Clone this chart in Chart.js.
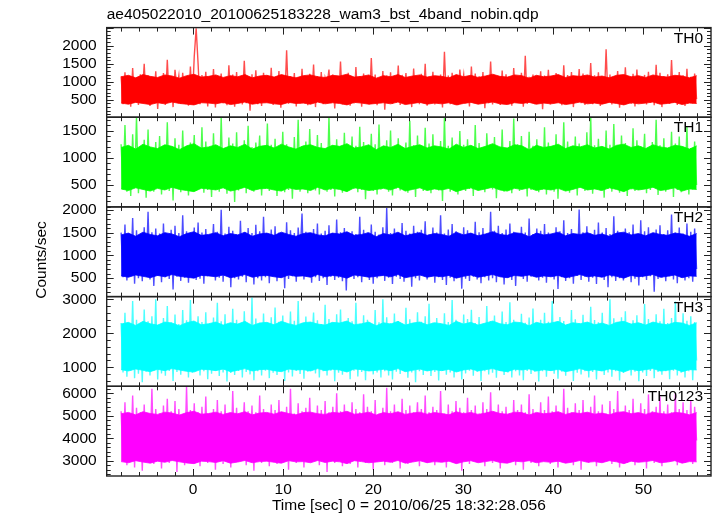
<!DOCTYPE html>
<html>
<head>
<meta charset="utf-8">
<script src="https://cdn.jsdelivr.net/npm/chart.js@4/dist/chart.umd.min.js"></script>
<style>
  html, body { margin: 0; padding: 0; background: #fff; }
  #wrap { position: relative; width: 717px; height: 516px; }
  #wrap canvas { position: absolute; left: 0; top: 0; }
</style>
</head>
<body>
<div id="wrap">
  <canvas id="c0" width="717" height="516"></canvas>
  <canvas id="c1" width="717" height="516"></canvas>
  <canvas id="c2" width="717" height="516"></canvas>
  <canvas id="c3" width="717" height="516"></canvas>
  <canvas id="c4" width="717" height="516"></canvas>
</div>
<script>
// time bins (sec): first bin and bin width of the light curve,
// and of the dense core envelope
const tStart = -8.0;
const binSize = 0.2137;
const bandStep = 0.809;

const xTicks = [0, 10, 20, 30, 40, 50];

const panelNames = ['TH0', 'TH1', 'TH2', 'TH3', 'TH0123'];

const yTicksTH0 = [500, 1000, 1500, 2000];
const yTicksTH1 = [500, 1000, 1500];
const yTicksTH2 = [500, 1000, 1500, 2000];
const yTicksTH3 = [1000, 2000, 3000];
const yTicksTH0123 = [3000, 4000, 5000, 6000];

// light curve peaks and dips (counts/sec)
const th0 = [
  1150, 380, 1260, 420, 1090, 310, 1380, 450, 1120, 360, 1210, 600, 1500, 400, 1180, 330, 1090, 430, 1290, 250,
  1130, 410, 1240, 360, 1610, 440, 1100, 300, 1330, 820, 1170, 390, 1250, 460, 1080, 340, 1420, 410, 1700, 2480,
  1500, 380, 1190, 450, 1280, 320, 1110, 420, 1350, 290, 1160, 760, 1230, 400, 1090, 350, 1460, 430, 1200, 310,
  1270, 440, 1120, 370, 1580, 410, 1140, 200, 1210, 460, 1320, 380, 1080, 330, 1250, 700, 1170, 420, 1390, 360,
  1100, 450, 1300, 280, 1190, 410, 1870, 390, 1150, 440, 1240, 320, 1120, 400, 1360, 460, 1090, 350, 1220, 430,
  1480, 300, 1160, 420, 1270, 380, 1110, 900, 1340, 410, 1200, 260, 1130, 450, 1560, 370, 1180, 430, 1250, 340,
  1090, 400, 1410, 460, 1150, 310, 1230, 420, 1120, 380, 1660, 440, 1200, 350, 1080, 410, 1300, 230, 1170, 450,
  1260, 390, 1130, 430, 1450, 360, 1190, 650, 1240, 410, 1110, 300, 1370, 450, 1160, 380, 1220, 420, 1500, 340,
  1140, 460, 1280, 370, 1090, 410, 1200, 290, 1830, 440, 1170, 380, 1250, 430, 1120, 350, 1340, 800, 1190, 410,
  1100, 320, 1420, 450, 1230, 390, 1150, 440, 1270, 270, 1130, 410, 1560, 370, 1180, 430, 1090, 360, 1310, 440,
  1210, 400, 1120, 340, 1380, 460, 1160, 420, 1250, 310, 1720, 390, 1140, 450, 1200, 380, 1080, 420, 1290, 240,
  1170, 440, 1330, 370, 1100, 410, 1240, 700, 1150, 350, 1460, 430, 1190, 390, 1270, 300, 1120, 450, 1350, 410,
  1230, 360, 1090, 420, 1520, 380, 1180, 440, 1260, 330, 1140, 410, 1900, 450, 1200, 370, 1110, 430, 1300, 280,
  1160, 400, 1400, 450, 1120, 390, 1220, 320, 1340, 440, 1080, 600, 1190, 370, 1280, 420, 1130, 350, 1470, 410,
  1250, 300, 1150, 430, 1210, 390, 1600, 440, 1100, 360, 1270, 420, 1180, 330, 1360, 450, 1140, 400, 1230, 520
];
const th1 = [
  1250, 420, 1600, 380, 1180, 300, 1430, 460, 1750, 350, 1200, 440, 1330, 270, 1520, 410, 1160, 380, 1290, 450,
  1400, 330, 1210, 430, 1650, 390, 1170, 220, 1360, 460, 1240, 370, 1500, 420, 1150, 310, 1280, 700, 1420, 400,
  1190, 440, 1560, 360, 1300, 410, 1130, 280, 1450, 430, 1220, 380, 1750, 450, 1180, 340, 1370, 420, 1260, 190,
  1470, 400, 1160, 450, 1320, 350, 1590, 420, 1200, 380, 1280, 800, 1410, 310, 1170, 440, 1630, 390, 1240, 430,
  1350, 300, 1190, 460, 1480, 370, 1250, 410, 1140, 250, 1380, 440, 1700, 380, 1210, 420, 1300, 350, 1530, 450,
  1180, 400, 1420, 330, 1270, 440, 1160, 380, 1750, 410, 1230, 290, 1340, 450, 1200, 360, 1460, 420, 1150, 600,
  1390, 430, 1220, 370, 1570, 410, 1290, 240, 1180, 450, 1440, 390, 1250, 330, 1610, 420, 1170, 460, 1320, 380,
  1500, 310, 1200, 440, 1360, 400, 1140, 850, 1280, 360, 1680, 430, 1230, 280, 1410, 450, 1190, 390, 1550, 420,
  1260, 350, 1430, 460, 1170, 400, 1310, 210, 1750, 440, 1220, 380, 1370, 420, 1150, 330, 1490, 450, 1240, 390,
  1340, 430, 1190, 300, 1600, 410, 1270, 450, 1160, 370, 1450, 700, 1230, 420, 1380, 260, 1200, 440, 1520, 380,
  1180, 410, 1310, 350, 1720, 460, 1250, 390, 1400, 430, 1150, 290, 1480, 410, 1220, 450, 1340, 370, 1190, 420,
  1560, 330, 1280, 440, 1170, 380, 1430, 250, 1210, 450, 1650, 400, 1300, 360, 1180, 430, 1390, 310, 1260, 450,
  1200, 390, 1470, 420, 1750, 340, 1230, 460, 1350, 400, 1160, 270, 1500, 430, 1240, 380, 1620, 440, 1190, 360,
  1410, 450, 1270, 300, 1180, 420, 1540, 390, 1320, 440, 1210, 750, 1440, 350, 1170, 410, 1290, 460, 1700, 320,
  1230, 430, 1360, 380, 1150, 450, 1480, 280, 1260, 410, 1390, 370, 1200, 440, 1580, 330, 1180, 420, 1300, 500
];
const th2 = [
  1500, 520, 1680, 450, 1460, 560, 1820, 380, 1550, 500, 1470, 430, 1620, 540, 1960, 470, 1510, 330, 1590, 550,
  1480, 410, 1700, 520, 1450, 480, 1560, 250, 1650, 530, 1490, 440, 1880, 510, 1530, 400, 1470, 560, 1610, 460,
  1720, 490, 1500, 380, 1580, 540, 1460, 900, 1690, 450, 1520, 510, 2000, 420, 1480, 550, 1630, 300, 1540, 500,
  1460, 470, 1760, 530, 1510, 410, 1600, 560, 1490, 360, 1670, 500, 1530, 450, 1850, 520, 1470, 390, 1570, 540,
  1640, 430, 1500, 510, 1460, 280, 1730, 480, 1550, 540, 1490, 420, 1610, 1000, 1920, 470, 1520, 550, 1470, 400,
  1580, 520, 1700, 440, 1480, 500, 1540, 350, 1660, 530, 1450, 460, 1790, 510, 1510, 430, 1600, 230, 1490, 550,
  1530, 480, 1470, 520, 1850, 410, 1560, 540, 1500, 460, 1680, 380, 1520, 500, 1460, 550, 1620, 440, 2040, 510,
  1490, 370, 1590, 530, 1470, 480, 1710, 420, 1540, 560, 1480, 310, 1650, 500, 1520, 450, 1560, 800, 1750, 470,
  1460, 540, 1610, 400, 1500, 520, 1880, 460, 1480, 350, 1570, 510, 1690, 430, 1530, 550, 1470, 270, 1620, 490,
  1550, 440, 1480, 530, 1740, 470, 1510, 390, 1600, 520, 1460, 450, 1960, 500, 1540, 410, 1650, 540, 1490, 360,
  1570, 510, 1700, 460, 1520, 330, 1480, 550, 1630, 480, 1500, 420, 1810, 530, 1470, 900, 1590, 450, 1540, 510,
  1690, 400, 1500, 540, 1460, 470, 1620, 260, 1530, 520, 1770, 440, 1490, 500, 1580, 380, 1470, 550, 2010, 460,
  1510, 530, 1640, 420, 1480, 510, 1560, 370, 1720, 540, 1500, 460, 1600, 300, 1470, 520, 1860, 440, 1540, 500,
  1480, 450, 1590, 550, 1510, 410, 1680, 490, 1460, 340, 1770, 520, 1530, 460, 1620, 540, 1490, 200, 1570, 480,
  1660, 510, 1470, 430, 1550, 540, 1900, 470, 1500, 390, 1610, 520, 1480, 450, 1700, 500, 1520, 420, 1590, 700
];
const th3 = [
  2300, 850, 2600, 720, 2250, 900, 2950, 680, 2400, 810, 2280, 560, 2700, 870, 2350, 760, 2500, 900, 3000, 640,
  2260, 820, 2450, 750, 2800, 890, 2320, 600, 2550, 860, 2270, 780, 2680, 900, 2380, 700, 2980, 840, 2290, 1500,
  2500, 760, 2330, 880, 2620, 650, 2280, 810, 2460, 900, 2900, 740, 2350, 850, 2560, 580, 2270, 830, 2720, 770,
  2400, 890, 2300, 700, 2650, 860, 2260, 790, 3050, 620, 2430, 880, 2310, 760, 2580, 900, 2290, 680, 2470, 840,
  2760, 770, 2340, 900, 2520, 600, 2280, 850, 2640, 730, 2370, 890, 2950, 800, 2300, 660, 2490, 870, 2250, 1600,
  2610, 820, 2380, 700, 2270, 880, 2840, 760, 2420, 900, 2310, 590, 2560, 840, 2700, 780, 2290, 870, 2450, 650,
  2350, 900, 2900, 730, 2280, 860, 2530, 620, 2400, 890, 2260, 790, 2680, 850, 2320, 700, 3000, 880, 2470, 760,
  2300, 640, 2580, 870, 2360, 800, 2260, 900, 2750, 690, 2410, 850, 2290, 560, 2620, 880, 2340, 770, 2500, 900,
  2870, 740, 2310, 860, 2450, 610, 2280, 890, 2590, 780, 2330, 850, 2980, 700, 2400, 880, 2270, 640, 2550, 820,
  2420, 900, 2690, 750, 2300, 860, 2480, 600, 2260, 880, 2800, 790, 2350, 840, 2520, 690, 2290, 900, 2640, 770,
  2330, 850, 2910, 700, 2400, 880, 2280, 760, 2570, 620, 2310, 890, 2460, 800, 2730, 860, 2270, 580, 2400, 880,
  2600, 720, 2340, 900, 2950, 810, 2290, 660, 2480, 870, 2360, 750, 2270, 890, 2680, 600, 2410, 840, 2300, 790,
  2540, 880, 2280, 700, 2780, 860, 2390, 640, 2320, 900, 2600, 770, 2260, 850, 3000, 720, 2440, 880, 2310, 610,
  2470, 830, 2650, 900, 2290, 760, 2380, 870, 2530, 590, 2300, 850, 2860, 740, 2420, 890, 2270, 680, 2560, 860,
  2350, 780, 2720, 880, 2300, 650, 2450, 900, 2930, 760, 2280, 840, 2590, 700, 2370, 880, 2500, 620, 2330, 1200
];
const th0123 = [
  5200, 3000, 5600, 2800, 5100, 3100, 5900, 2700, 5350, 3050, 5150, 2550, 5500, 2950, 5050, 3100, 6200, 2850, 5300, 3000,
  5100, 2650, 5450, 3100, 5750, 2900, 5200, 3050, 5650, 2500, 5300, 3000, 5050, 2800, 6300, 3100, 5250, 2950, 5550, 3080,
  5150, 2750, 5400, 3000, 5850, 2900, 5100, 3100, 5300, 2600, 5700, 3050, 5200, 2850, 5500, 3000, 5050, 2700, 6100, 3100,
  5350, 2950, 5100, 4000, 5600, 2800, 5200, 3050, 5450, 2550, 5150, 3000, 5900, 2900, 5300, 3100, 5050, 2750, 5500, 3000,
  5250, 2850, 5700, 3100, 5150, 2950, 5400, 2600, 6200, 3050, 5100, 2900, 5550, 3000, 5200, 2700, 5350, 3100, 5800, 2950,
  5100, 3050, 5450, 2800, 5250, 3000, 5650, 2500, 5150, 3100, 5400, 2900, 6000, 3050, 5200, 2750, 5500, 3000, 5050, 2850,
  5600, 3000, 5300, 2700, 5150, 3100, 5950, 2900, 5400, 3050, 5200, 2600, 5700, 2950, 5100, 3100, 5350, 2800, 6250, 3000,
  5200, 2900, 5500, 3050, 5100, 2650, 5750, 3000, 5250, 2850, 5450, 3100, 5150, 4100, 5600, 2750, 5300, 3000, 5900, 2900,
  5150, 3100, 5400, 2800, 5250, 2950, 6100, 3050, 5100, 2700, 5500, 3000, 5200, 2900, 5650, 3100, 5350, 2550, 5150, 3000,
  5800, 2850, 5250, 3100, 5450, 2950, 5100, 3050, 5600, 2750, 5300, 3000, 6050, 2900, 5150, 3100, 5500, 2650, 5200, 3000,
  5400, 2950, 5100, 3050, 5700, 2800, 5250, 3100, 5500, 2600, 5150, 3000, 5950, 2900, 5300, 3050, 5100, 2750, 5600, 3000,
  5250, 3100, 5850, 2850, 5200, 3000, 5450, 2700, 5100, 3050, 6200, 2950, 5350, 3100, 5150, 2800, 5550, 3000, 5250, 2600,
  5700, 3000, 5150, 2900, 5400, 3100, 5900, 2750, 5200, 3050, 5500, 2950, 5100, 3000, 5650, 2850, 5300, 3100, 6100, 2700,
  5150, 3050, 5450, 2900, 5250, 3000, 5750, 2800, 5100, 3100, 5550, 2950, 5300, 2650, 5950, 3050, 5200, 2900, 5400, 3000,
  5850, 2750, 5200, 3100, 5500, 2950, 5150, 3050, 6000, 2800, 5300, 3000, 5600, 2900, 5250, 3100, 5700, 2850, 5400, 3900
];

// dense core of each curve: lower / upper edge (counts/sec)
const th0Lo = [
  410, 380, 430, 400, 370, 420, 390, 440, 400, 380, 360, 420, 410, 390, 430, 370, 400, 440, 380, 410,
  420, 390, 370, 430, 400, 410, 380, 440, 390, 420, 400, 360, 430, 410, 380, 400, 420, 390, 440, 370,
  400, 430, 380, 410, 390, 420, 360, 400, 430, 380, 410, 440, 390, 370, 420, 400, 430, 380, 410, 390,
  420, 370, 400, 440, 390, 410, 380, 430, 400, 360, 420, 390, 410, 440, 380, 400, 430, 370, 410, 400
];
const th0Hi = [
  1140, 1180, 1110, 1200, 1150, 1120, 1190, 1160, 1100, 1170, 1210, 1130, 1150, 1190, 1120, 1170, 1140, 1200, 1110, 1160,
  1180, 1130, 1200, 1150, 1110, 1170, 1190, 1140, 1120, 1180, 1160, 1210, 1130, 1150, 1190, 1100, 1170, 1140, 1200, 1120,
  1160, 1190, 1130, 1170, 1150, 1110, 1200, 1140, 1180, 1120, 1160, 1210, 1150, 1130, 1190, 1170, 1100, 1180, 1140, 1160,
  1200, 1120, 1170, 1150, 1190, 1130, 1160, 1110, 1180, 1200, 1140, 1170, 1120, 1190, 1150, 1130, 1180, 1160, 1110, 1170
];
const th1Lo = [
  430, 400, 450, 420, 390, 440, 410, 460, 420, 400, 380, 440, 430, 410, 450, 390, 420, 460, 400, 430,
  440, 410, 390, 450, 420, 430, 400, 460, 410, 440, 420, 380, 450, 430, 400, 420, 440, 410, 460, 390,
  420, 450, 400, 430, 410, 440, 380, 420, 450, 400, 430, 460, 410, 390, 440, 420, 450, 400, 430, 410,
  440, 390, 420, 460, 410, 430, 400, 450, 420, 380, 440, 410, 430, 460, 400, 420, 450, 390, 430, 420
];
const th1Hi = [
  1190, 1230, 1160, 1250, 1200, 1170, 1240, 1210, 1150, 1220, 1260, 1180, 1200, 1240, 1170, 1220, 1190, 1250, 1160, 1210,
  1230, 1180, 1250, 1200, 1160, 1220, 1240, 1190, 1170, 1230, 1210, 1260, 1180, 1200, 1240, 1150, 1220, 1190, 1250, 1170,
  1210, 1240, 1180, 1220, 1200, 1160, 1250, 1190, 1230, 1170, 1210, 1260, 1200, 1180, 1240, 1220, 1150, 1230, 1190, 1210,
  1250, 1170, 1220, 1200, 1240, 1180, 1210, 1160, 1230, 1250, 1190, 1220, 1170, 1240, 1200, 1180, 1230, 1210, 1160, 1220
];
const th2Lo = [
  550, 520, 570, 540, 510, 560, 530, 580, 540, 520, 500, 560, 550, 530, 570, 510, 540, 580, 520, 550,
  560, 530, 510, 570, 540, 550, 520, 580, 530, 560, 540, 500, 570, 550, 520, 540, 560, 530, 580, 510,
  540, 570, 520, 550, 530, 560, 500, 540, 570, 520, 550, 580, 530, 510, 560, 540, 570, 520, 550, 530,
  560, 510, 540, 580, 530, 550, 520, 570, 540, 500, 560, 530, 550, 580, 520, 540, 570, 510, 550, 540
];
const th2Hi = [
  1450, 1490, 1420, 1510, 1460, 1430, 1500, 1470, 1410, 1480, 1520, 1440, 1460, 1500, 1430, 1480, 1450, 1510, 1420, 1470,
  1490, 1440, 1510, 1460, 1420, 1480, 1500, 1450, 1430, 1490, 1470, 1520, 1440, 1460, 1500, 1410, 1480, 1450, 1510, 1430,
  1470, 1500, 1440, 1480, 1460, 1420, 1510, 1450, 1490, 1430, 1470, 1520, 1460, 1440, 1500, 1480, 1410, 1490, 1450, 1470,
  1510, 1430, 1480, 1460, 1500, 1440, 1470, 1420, 1490, 1510, 1450, 1480, 1430, 1500, 1460, 1440, 1490, 1470, 1420, 1480
];
const th3Lo = [
  930, 890, 950, 910, 870, 940, 900, 960, 920, 880, 860, 940, 930, 900, 950, 870, 910, 960, 890, 930,
  940, 900, 870, 950, 920, 930, 890, 960, 900, 940, 920, 860, 950, 930, 890, 910, 940, 900, 960, 870,
  910, 950, 890, 930, 900, 940, 860, 920, 950, 890, 930, 960, 900, 870, 940, 920, 950, 890, 930, 900,
  940, 870, 910, 960, 900, 930, 890, 950, 920, 860, 940, 900, 930, 960, 890, 910, 950, 870, 930, 920
];
const th3Hi = [
  2270, 2320, 2230, 2350, 2280, 2240, 2330, 2300, 2220, 2310, 2360, 2250, 2280, 2330, 2240, 2310, 2270, 2350, 2230, 2300,
  2320, 2250, 2350, 2280, 2230, 2310, 2330, 2270, 2240, 2320, 2300, 2360, 2250, 2280, 2330, 2220, 2310, 2270, 2350, 2240,
  2300, 2330, 2250, 2310, 2280, 2230, 2350, 2270, 2320, 2240, 2300, 2360, 2280, 2250, 2330, 2310, 2220, 2320, 2270, 2300,
  2350, 2240, 2310, 2280, 2330, 2250, 2300, 2230, 2320, 2350, 2270, 2310, 2240, 2330, 2280, 2250, 2320, 2300, 2230, 2310
];
const th0123Lo = [
  2960, 2910, 3000, 2940, 2890, 2980, 2930, 3010, 2950, 2900, 2870, 2980, 2960, 2920, 3000, 2890, 2940, 3010, 2910, 2960,
  2980, 2930, 2890, 3000, 2950, 2960, 2910, 3010, 2920, 2980, 2950, 2870, 3000, 2960, 2910, 2940, 2980, 2930, 3010, 2890,
  2940, 3000, 2910, 2960, 2930, 2980, 2870, 2950, 3000, 2910, 2960, 3010, 2920, 2890, 2980, 2950, 3000, 2910, 2960, 2930,
  2980, 2890, 2940, 3010, 2930, 2960, 2910, 3000, 2950, 2870, 2980, 2930, 2960, 3010, 2910, 2940, 3000, 2890, 2960, 2950
];
const th0123Hi = [
  5090, 5150, 5040, 5180, 5100, 5060, 5160, 5120, 5030, 5140, 5200, 5070, 5100, 5160, 5060, 5140, 5090, 5180, 5040, 5120,
  5150, 5070, 5180, 5100, 5040, 5140, 5160, 5090, 5060, 5150, 5120, 5200, 5070, 5100, 5160, 5030, 5140, 5090, 5180, 5060,
  5120, 5160, 5070, 5140, 5100, 5040, 5180, 5090, 5150, 5060, 5120, 5200, 5100, 5070, 5160, 5140, 5030, 5150, 5090, 5120,
  5180, 5060, 5140, 5100, 5160, 5070, 5120, 5040, 5150, 5180, 5090, 5140, 5060, 5160, 5100, 5070, 5150, 5120, 5040, 5140
];

const FONT = "'Liberation Sans', Arial, Helvetica, sans-serif";
const bounds = [27.5, 117.2, 206.9, 296.6, 386.3, 476];

const panels = [
  { name: panelNames[0], values: th0, lo: th0Lo, hi: th0Hi, ticks: yTicksTH0, min: 20, max: 2500, minor: 100, rgb: '255,0,0' },
  { name: panelNames[1], values: th1, lo: th1Lo, hi: th1Hi, ticks: yTicksTH1, min: 100, max: 1745, minor: 100, rgb: '0,255,0' },
  { name: panelNames[2], values: th2, lo: th2Lo, hi: th2Hi, ticks: yTicksTH2, min: 95, max: 2065, minor: 100, rgb: '0,0,255' },
  { name: panelNames[3], values: th3, lo: th3Lo, hi: th3Hi, ticks: yTicksTH3, min: 440, max: 3078, minor: 200, rgb: '0,255,255' },
  { name: panelNames[4], values: th0123, lo: th0123Lo, hi: th0123Hi, ticks: yTicksTH0123, min: 2320, max: 6310, minor: 200, rgb: '255,0,255' }
];

// frame with inward ticks on all four sides, plus panel name
const framePlugin = {
  id: 'qdpFrame',
  afterDraw(chart, args, opts) {
    const { ctx, chartArea: a } = chart;
    const xs = chart.scales.x, ys = chart.scales.y;
    ctx.save();
    ctx.strokeStyle = '#222';
    ctx.lineWidth = 1;
    ctx.beginPath();
    for (let v = -8; v <= 56; v += 2) {
      const p = Math.round(xs.getPixelForValue(v)) + 0.5;
      const len = v % 10 === 0 ? 7 : 4;
      ctx.moveTo(p, a.bottom); ctx.lineTo(p, a.bottom - len);
      ctx.moveTo(p, a.top); ctx.lineTo(p, a.top + len);
    }
    const major = opts.ticks[1] - opts.ticks[0];
    for (let v = Math.ceil(ys.min / opts.minor) * opts.minor; v <= ys.max; v += opts.minor) {
      const p = Math.round(ys.getPixelForValue(v)) + 0.5;
      const len = v % major === 0 ? 7 : 4;
      ctx.moveTo(a.left, p); ctx.lineTo(a.left + len, p);
      ctx.moveTo(a.right, p); ctx.lineTo(a.right - len, p);
    }
    ctx.stroke();
    ctx.lineWidth = 1.4;
    ctx.strokeRect(a.left, a.top, a.right - a.left, a.bottom - a.top);
    ctx.fillStyle = '#000';
    ctx.font = '15.5px ' + FONT;
    ctx.textAlign = 'right';
    ctx.textBaseline = 'top';
    ctx.fillText(opts.name, a.right - 8, a.top + 3);
    if (opts.ylabel) {
      ctx.translate(42, 260);
      ctx.rotate(-Math.PI / 2);
      ctx.textAlign = 'center';
      ctx.textBaseline = 'middle';
      ctx.fillText(opts.ylabel, 0, 0);
    }
    ctx.restore();
  }
};

panels.forEach((pn, i) => {
  const isTop = i === 0;
  const isBottom = i === panels.length - 1;
  const curve = pn.values.map((v, k) => ({ x: tStart + k * binSize, y: v }));
  const coreLo = pn.lo.map((v, k) => ({ x: tStart + k * bandStep, y: v }));
  const coreHi = pn.hi.map((v, k) => ({ x: tStart + k * bandStep, y: v }));
  new Chart(document.getElementById('c' + i), {
    type: 'line',
    data: {
      datasets: [
        { data: curve, borderColor: 'rgba(' + pn.rgb + ',0.7)', borderWidth: 1.4, pointRadius: 0, tension: 0 },
        { data: coreLo, borderColor: 'rgba(' + pn.rgb + ',0.8)', borderWidth: 1, pointRadius: 0, tension: 0, fill: false },
        { data: coreHi, borderColor: 'rgba(' + pn.rgb + ',0.8)', borderWidth: 1, pointRadius: 0, tension: 0,
          fill: '-1', backgroundColor: 'rgb(' + pn.rgb + ')' }
      ]
    },
    options: {
      responsive: false,
      animation: false,
      devicePixelRatio: 1,
      layout: {
        padding: {
          left: 0,
          right: 6,
          top: isTop ? 0 : bounds[i],
          bottom: isBottom ? 0 : 516 - bounds[i + 1]
        }
      },
      plugins: {
        legend: { display: false },
        tooltip: { enabled: false },
        title: {
          display: isTop,
          text: 'ae405022010_20100625183228_wam3_bst_4band_nobin.qdp',
          align: 'start',
          fullSize: false,
          color: '#000',
          font: { family: FONT, size: 15.5, weight: 'normal' },
          padding: { top: 5, bottom: 4 }
        },
        qdpFrame: { name: pn.name, ticks: pn.ticks, minor: pn.minor, ylabel: i === 2 ? 'Counts/sec' : null }
      },
      scales: {
        x: {
          type: 'linear',
          min: -9.6,
          max: 57.5,
          display: isBottom,
          afterBuildTicks: s => { s.ticks = xTicks.map(v => ({ value: v })); },
          afterFit: s => { if (isBottom) s.height = 40; },
          grid: { display: false, drawTicks: false },
          border: { display: false },
          ticks: { color: '#000', padding: 4, maxRotation: 0, font: { family: FONT, size: 15.5 }, callback: v => String(v) },
          title: {
            display: true,
            text: 'Time [sec] 0 = 2010/06/25 18:32:28.056',
            color: '#000',
            font: { family: FONT, size: 15.5 },
            padding: { top: 0, bottom: 1 }
          }
        },
        y: {
          min: pn.min,
          max: pn.max,
          afterBuildTicks: s => { s.ticks = pn.ticks.map(v => ({ value: v })); },
          afterFit: s => { s.width = 106.7; },
          grid: { display: false, drawTicks: false },
          border: { display: false },
          ticks: { color: '#000', padding: 10, font: { family: FONT, size: 15.5 }, callback: v => String(v) }
        }
      }
    },
    plugins: [framePlugin]
  });
});
</script>
</body>
</html>
